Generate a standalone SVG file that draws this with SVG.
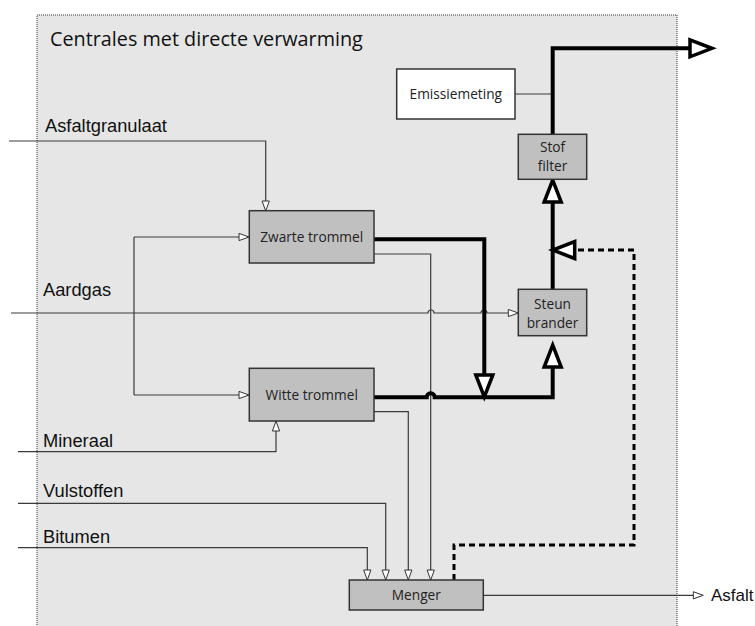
<svg xmlns="http://www.w3.org/2000/svg" width="755" height="626" viewBox="0 0 755 626">
<style>
.thin{fill:none;stroke:#3a3a3a;stroke-width:1.2}
.thick{fill:none;stroke:#000;stroke-width:4}
.dash{fill:none;stroke:#000;stroke-width:3;stroke-dasharray:6 4}
.box{fill:#c0c0c0;stroke:#333;stroke-width:1.5}
.wbox{fill:#fff;stroke:#333;stroke-width:1.5}
.bl{font-family:"Open Sans","Noto Sans",sans-serif;font-size:13.7px;fill:#222;text-anchor:middle}
.lab{font-family:"Liberation Sans",Arial,sans-serif;font-size:18.3px;fill:#111}
.title{font-family:"Open Sans","Noto Sans",sans-serif;font-size:19.8px;fill:#111}
</style>
<defs>
<marker id="sa" markerUnits="userSpaceOnUse" markerWidth="14" markerHeight="12" viewBox="-1 -6 14 12" refX="0" refY="0" orient="auto">
<path d="M0,-3.6 L10,0 L0,3.6 z" fill="#fff" stroke="#333" stroke-width="1"/>
</marker>
<marker id="ba" markerUnits="userSpaceOnUse" markerWidth="30" markerHeight="26" viewBox="-3 -13 30 26" refX="0" refY="0" orient="auto">
<path d="M0,-8.5 L22,0 L0,8.5 z" fill="#fff" stroke="#000" stroke-width="3.5" stroke-dasharray="none"/>
</marker>
</defs>
<rect id="frame" x="37" y="15" width="640" height="640" fill="#e6e6e6" stroke="#333" stroke-width="1" stroke-dasharray="1 1"/>
<text class="title" x="50" y="46">Centrales met directe verwarming</text>
<g id="connectors">
<path class="thin" d="M9,141 H265.7 V201" marker-end="url(#sa)"/>
<path class="thin" d="M134,237 V395"/>
<path class="thin" d="M134,237 H239" marker-end="url(#sa)"/>
<path class="thin" d="M134,395 H239" marker-end="url(#sa)"/>
<path class="thin" d="M11,313 H428 a3,3 0 0 1 6,0 H481 a3,3 0 0 1 6,0 H508.3" marker-end="url(#sa)"/>
<path class="thin" d="M18,451.7 H276 V431" marker-end="url(#sa)"/>
<path class="thin" d="M18,503.3 H385.7 V570" marker-end="url(#sa)"/>
<path class="thin" d="M18,547.7 H367.3 V570" marker-end="url(#sa)"/>
<path class="thin" d="M374,254 H430.7 V570" marker-end="url(#sa)"/>
<path class="thin" d="M374,411.7 H408.3 V570" marker-end="url(#sa)"/>
<path class="thin" d="M483,595.3 H693.3" marker-end="url(#sa)"/>
<path class="thin" d="M515,94 H552.7"/>
<path class="thick" d="M374,239.3 H484.3 V375" marker-end="url(#ba)"/>
<path class="thick" d="M374,397.3 H426.7 a4,4 0 0 1 8,0 H552.7 V367" marker-end="url(#ba)"/>
<path class="thick" d="M552.7,289.3 V202" marker-end="url(#ba)"/>
<path class="thick" d="M552.7,134.3 V48.3 H690" marker-end="url(#ba)"/>
<path class="dash" d="M454,580 V545 H634 V250 H574.7" marker-end="url(#ba)"/>
</g>
<text class="lab" x="45" y="132">Asfaltgranulaat</text>
<text class="lab" x="43" y="296">Aardgas</text>
<text class="lab" x="43" y="447">Mineraal</text>
<text class="lab" x="43" y="497">Vulstoffen</text>
<text class="lab" x="43" y="543">Bitumen</text>
<text class="lab" x="711" y="601" style="font-size:17px">Asfalt</text>
<g id="zwarte"><rect class="box" x="249.3" y="210.7" width="124.7" height="52.3"/><text class="bl" x="311.7" y="242">Zwarte trommel</text></g>
<g id="witte"><rect class="box" x="249.3" y="368.3" width="124.7" height="52.7"/><text class="bl" x="311.7" y="400">Witte trommel</text></g>
<g id="steun"><rect class="box" x="518.3" y="289.3" width="68.4" height="46.4"/><text class="bl" x="552.5" y="308.5">Steun</text><text class="bl" x="552.5" y="327.5">brander</text></g>
<g id="stof"><rect class="box" x="518.3" y="134.3" width="68.4" height="45"/><text class="bl" x="552.5" y="152">Stof</text><text class="bl" x="552.5" y="171">filter</text></g>
<g id="emissie"><rect class="wbox" x="396.7" y="69" width="118.3" height="50"/><text class="bl" x="455.8" y="99">Emissiemeting</text></g>
<g id="menger"><rect class="box" x="349.3" y="580" width="134" height="30"/><text class="bl" x="416.3" y="600">Menger</text></g>
</svg>
